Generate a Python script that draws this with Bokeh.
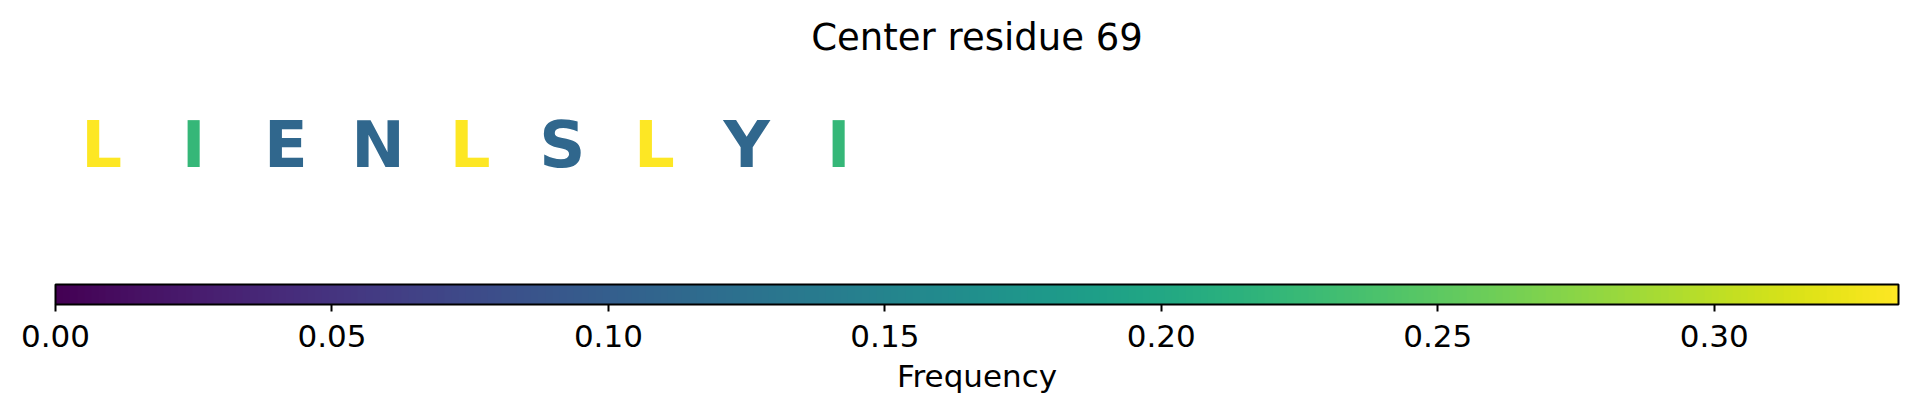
from bokeh.plotting import figure
from bokeh.models import (ColumnDataSource, LinearColorMapper, ColorBar, Range1d,
                          SingleIntervalTicker, PrintfTickFormatter, Title)
from bokeh.palettes import Viridis256
from bokeh.transform import transform
from bokeh.core.properties import value
from bokeh.embed import file_html
from bokeh.resources import INLINE

# ---- data ----
residues = ["L", "I", "E", "N", "L", "S", "L", "Y", "I"]
positions = [0, 1, 2, 3, 4, 5, 6, 7, 8]
frequencies = [0.333, 0.222, 0.111, 0.111, 0.333, 0.111, 0.333, 0.111, 0.222]
freq_low = 0.0
freq_high = 1.0 / 3.0
title_text = "Center residue 69"
bar_label = "Frequency"

FONT = "DejaVu Sans"

source = ColumnDataSource(dict(x=positions, y=[0.0] * len(positions),
                               text=residues, freq=frequencies))
mapper = LinearColorMapper(palette=Viridis256, low=freq_low, high=freq_high)

p = figure(width=1901, height=392, output_backend="svg", toolbar_location=None,
           x_range=Range1d(-0.5, 19.5), y_range=Range1d(-1.265, 0.735),
           x_axis_location=None, y_axis_location=None,
           min_border_left=55, min_border_right=3, min_border_top=0,
           min_border_bottom=0)
p.margin = (8, 0, 0, 0)
p.grid.visible = False
p.outline_line_color = None

p.title.text = title_text
p.title.align = "center"
p.title.text_font = FONT
p.title.text_font_size = "37px"
p.title.text_font_style = "normal"
p.title.text_color = "black"

p.text(x="x", y="y", text="text", source=source,
       text_color=transform("freq", mapper),
       text_font=value(FONT), text_font_size="64px", text_font_style="bold",
       text_align="center", text_baseline="alphabetic")

cb = ColorBar(color_mapper=mapper, orientation="horizontal",
              height=20, padding=0, margin=0,
              ticker=SingleIntervalTicker(interval=0.05, num_minor_ticks=0),
              formatter=PrintfTickFormatter(format="%.2f"),
              bar_line_color="black", bar_line_width=2,
              major_tick_in=0, major_tick_out=7,
              major_tick_line_color="black", major_tick_line_width=2,
              minor_tick_line_color=None,
              major_label_text_font=FONT, major_label_text_font_size="31px",
              major_label_text_color="black", label_standoff=13,
              background_fill_color=None, border_line_color=None)
p.add_layout(cb, "below")

t2 = Title(text=bar_label, align="center", text_font=FONT, standoff=13,
           text_font_size="31px", text_font_style="normal", text_color="black")
p.add_layout(t2, "below")

open("out.html", "w").write(file_html(p, INLINE))
